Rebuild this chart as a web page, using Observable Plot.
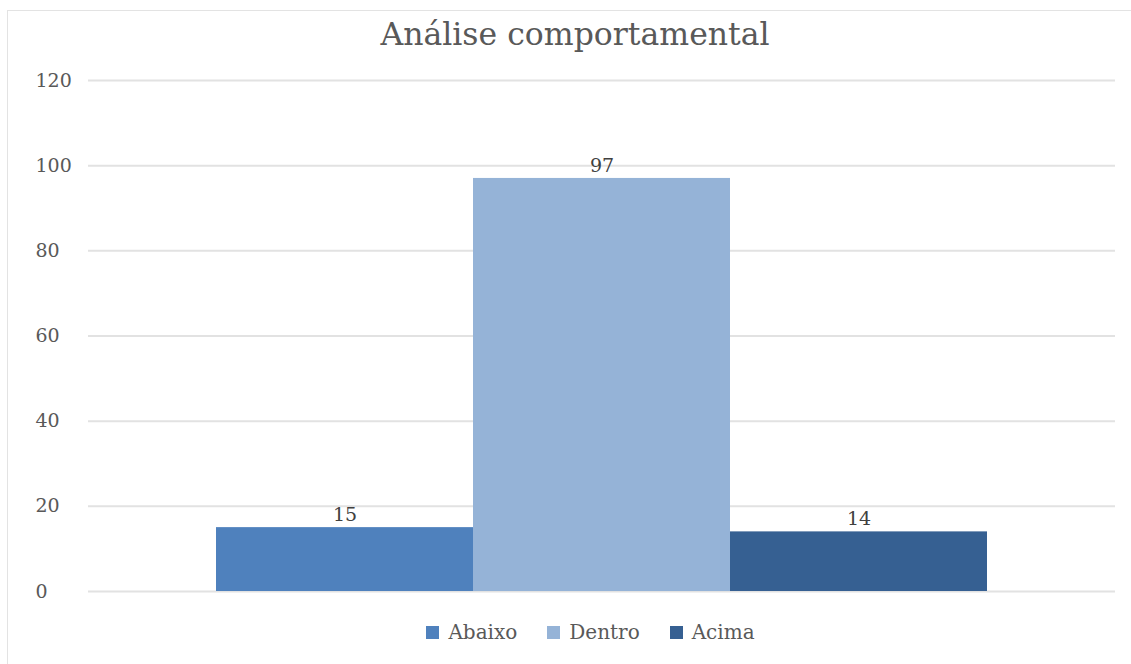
<!DOCTYPE html>
<html><head><meta charset="utf-8">
<script src="https://cdn.jsdelivr.net/npm/d3@7"></script>
<script src="https://cdn.jsdelivr.net/npm/@observablehq/plot@0.6"></script>
<style>
html,body{margin:0;padding:0;background:#fff;}
#wrap{position:relative;width:1131px;height:664px;overflow:hidden;font-family:"DejaVu Serif",serif;color:#595959;}
#frame{position:absolute;left:7px;top:10px;width:1140px;height:670px;border-left:1.5px solid #e3e3e3;border-top:1.5px solid #e3e3e3;}
#title{position:absolute;left:0;top:0;width:1131px;height:60px;box-sizing:border-box;padding-left:19px;text-align:center;font-size:31.5px;line-height:68px;color:#595959;}
#chart{position:absolute;left:0;top:60px;}
#legend{position:absolute;left:0;top:615px;width:1131px;height:34px;box-sizing:border-box;padding-left:50px;display:flex;justify-content:center;align-items:center;font-size:20px;color:#595959;}
.item{display:flex;align-items:center;margin:0 15px;}
.sw{width:13px;height:13px;margin-right:9px;}
</style></head>
<body><div id="wrap"><div id="frame"></div><div id="title">Análise comportamental</div><div id="chart"></div><div id="legend"></div></div>
<script>
const categories = ["Abaixo", "Dentro", "Acima"];
const values = [15, 97, 14];
const colors = ["#4F81BD", "#95B3D7", "#366092"];
const yTicks = [0, 20, 40, 60, 80, 100, 120];

const data = categories.map((c, i) => ({category: c, value: values[i]}));

const plot = Plot.plot({
  width: 1131,
  height: 555,
  marginTop: 20,
  marginBottom: 24,
  marginLeft: 88,
  marginRight: 16,
  style: {fontFamily: '"DejaVu Serif", serif', color: "#595959", background: "transparent"},
  x: {domain: categories, range: [216, 987], padding: 0, axis: null},
  y: {domain: [0, 120], axis: null},
  color: {domain: categories, range: colors},
  marks: [
    Plot.ruleY(yTicks, {stroke: "#e2e2e2", strokeWidth: 2}),
    Plot.barY(data, {x: "category", y: "value", fill: "category"}),
    Plot.text(data, {x: "category", y: "value", text: d => String(d.value), dy: -13, fontSize: 19, fill: "#404040"}),
    Plot.text(yTicks, {y: d => d, text: d => String(d), frameAnchor: "left", dx: -53, textAnchor: "start", fontSize: 19, fill: "#595959"})
  ]
});
document.getElementById("chart").appendChild(plot);

const legend = document.getElementById("legend");
categories.forEach((c, i) => {
  const it = document.createElement("div");
  it.className = "item";
  it.innerHTML = `<span class="sw" style="background:${colors[i]}"></span><span>${c}</span>`;
  legend.appendChild(it);
});
</script>
</body></html>
